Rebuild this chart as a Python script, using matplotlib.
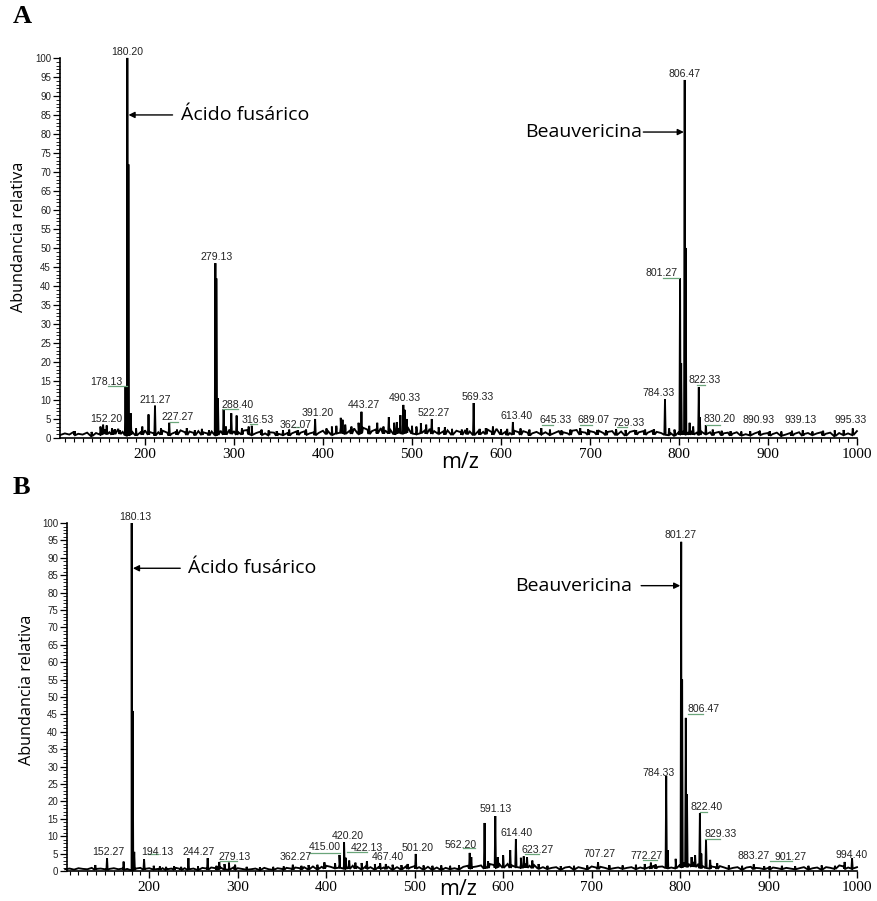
import numpy as np
import matplotlib
matplotlib.use("Agg")
import matplotlib.pyplot as plt
from matplotlib.ticker import MultipleLocator

# ---------------- data ----------------
base_mz = np.arange(105, 1001, 5)

A_base = [0.8,1.2,0.9,1.6,1.1,0.9,1.4,1.0,1.3,1.8,
          2.2,1.5,1.9,2.4,1.6,1.2,1.8,1.3,1.5,2.0,
          1.6,1.2,1.5,1.9,1.4,1.1,1.6,2.0,1.5,1.7,
          1.3,1.8,1.5,1.2,1.7,1.4,1.9,1.6,2.2,1.8,
          1.5,1.9,2.1,1.6,1.3,1.7,1.2,1.5,1.4,1.1,
          1.6,1.3,1.2,1.7,1.4,1.8,1.2,1.5,1.3,1.9,
          2.0,1.6,2.4,2.8,2.2,1.9,2.5,2.1,2.7,2.2,
          1.8,2.3,2.6,2.0,2.4,1.9,2.6,2.2,2.9,2.3,
          2.0,2.5,2.1,2.4,1.8,2.2,1.7,2.0,1.6,1.9,
          1.5,2.1,1.7,1.4,1.9,1.6,2.2,1.5,2.4,1.8,
          1.6,1.3,1.9,1.5,1.8,1.4,1.2,1.6,2.0,1.5,
          1.7,1.3,1.8,1.5,1.2,1.9,2.1,1.6,1.4,1.8,
          1.5,1.9,1.3,1.6,1.8,1.4,1.7,1.2,1.6,1.9,
          1.5,1.8,1.4,1.9,1.6,1.3,1.7,1.4,1.2,1.6,
          1.8,1.5,1.9,1.4,1.7,2.0,1.5,1.3,1.6,1.2,
          1.4,1.1,1.5,1.3,1.0,1.4,1.2,1.6,1.1,1.3,
          1.0,1.4,1.2,0.9,1.3,1.1,1.5,1.0,1.3,1.6,
          1.2,1.5,1.1,1.4,1.0,1.3,1.6,1.2,1.5,1.8]

B_base = [0.5,0.7,0.4,0.8,0.6,0.5,0.9,0.6,0.7,0.5,
          0.6,0.8,0.5,0.7,0.6,0.4,0.7,0.9,0.6,0.8,
          0.9,0.6,0.8,0.5,0.7,0.9,0.6,0.8,0.5,0.7,
          0.6,0.9,0.7,1.0,0.8,1.1,0.9,0.7,1.0,0.8,
          0.6,0.8,0.5,0.7,0.6,0.9,0.5,0.7,0.8,0.6,
          0.9,0.7,1.0,0.8,1.1,0.9,1.3,1.0,1.2,1.5,
          1.2,1.6,1.9,1.4,1.1,1.5,1.2,1.0,1.4,1.1,
          0.9,1.3,1.0,1.2,0.8,1.1,0.9,1.3,1.0,1.4,
          1.1,0.9,1.2,0.8,1.0,0.7,0.9,1.1,0.8,1.0,
          1.2,1.5,1.1,1.3,1.6,1.2,2.0,1.7,2.2,1.8,
          2.0,1.6,2.4,1.9,2.1,1.5,1.7,1.3,1.1,1.2,
          0.9,1.1,0.8,1.0,1.2,0.9,1.1,0.8,1.0,1.3,
          1.0,1.2,0.9,1.1,0.8,1.0,1.3,0.9,1.1,1.2,
          1.0,1.4,1.1,1.6,1.2,1.3,1.7,1.0,1.5,1.8,
          2.4,2.0,2.6,1.8,1.5,1.7,1.3,1.1,1.4,1.0,
          1.2,0.9,1.1,0.8,1.0,1.2,0.9,0.8,1.1,0.9,
          1.0,0.8,1.1,0.9,0.7,1.0,0.8,1.1,0.9,0.8,
          1.0,0.8,1.1,0.9,1.2,1.6,1.3,1.0,1.4,1.1]

A_peak_mz = [121, 140, 150, 153, 157, 163, 166, 172, 178.13, 180.2, 181.4, 184, 190, 197,
             204, 211.27, 218, 227.27, 236, 247, 256, 264, 272, 279.13, 280.2, 282, 288.4,
             291, 297, 303, 309, 316.53, 320, 331, 339, 348, 355, 362.07, 372, 381, 391.2,
             404, 410, 415, 420, 422, 425, 432, 440, 443.27, 452, 461, 468, 474, 480, 483,
             487, 490.33, 492, 494, 500, 505, 510, 516, 522.27, 530, 537, 545, 556, 562,
             569.33, 576, 583, 591, 600, 607, 613.4, 622, 632, 645.33, 655, 668, 678,
             689.07, 698, 708, 718, 729.33, 740, 752, 762, 772, 784.33, 789, 795, 801.27,
             802.5, 806.47, 807.6, 812, 816, 822.33, 823.5, 830.2, 838, 848, 858, 870, 880,
             890.93, 902, 915, 927, 939.13, 950, 962, 975, 985, 995.33]
A_peak_h = [1.8, 1.6, 3.0, 3.5, 3.3, 2.5, 2.3, 2.0, 13.5, 100, 72, 6.5, 2.5, 3.0,
            6.2, 8.5, 2.5, 4.0, 2.2, 2.6, 2.0, 2.4, 2.0, 46, 42, 10.5, 7.6,
            3.0, 6.5, 5.9, 2.5, 3.0, 3.2, 2.2, 2.0, 1.8, 2.0, 2.2, 2.0, 2.2, 5.0,
            2.5, 3.0, 3.2, 5.3, 4.8, 3.5, 3.0, 4.0, 6.9, 3.2, 4.0, 3.0, 5.5, 4.0, 4.2,
            6.0, 8.7, 7.4, 5.0, 3.2, 3.0, 3.9, 3.5, 5.0, 2.8, 2.8, 2.4, 2.2, 2.6,
            9.2, 2.4, 2.6, 3.0, 2.3, 2.4, 4.2, 2.5, 2.2, 2.6, 2.2, 2.0, 2.2,
            2.6, 2.3, 2.1, 2.0, 2.3, 2.1, 2.0, 2.2, 2.3, 10.2, 2.5, 2.2, 42,
            19.7, 94.2, 50, 4.0, 3.0, 13.4, 5.5, 3.4, 2.2, 1.9, 1.8, 1.7, 1.8,
            1.9, 1.8, 1.7, 1.9, 2.0, 1.7, 1.9, 2.0, 2.1, 2.5]

B_peak_mz = [139, 152.27, 171, 180.13, 181.2, 183, 194.13, 205, 212, 219, 228, 236, 244.27,
             255, 266, 276, 279.13, 285, 290, 297, 310, 325, 340, 352, 362.27, 372, 380,
             390, 398, 410, 415, 420.2, 422.13, 426, 433, 440, 446, 455, 461, 467.4, 475,
             485, 492, 501.2, 510, 520, 530, 540, 550, 562.2, 564, 579, 583, 591.13, 594,
             600, 608, 614.4, 620, 623.27, 627, 633, 640, 650, 665, 680, 695, 707.27, 720,
             735, 750, 760, 767, 772.27, 784.33, 786, 795, 801.27, 802.3, 806.47, 807.8,
             813, 817, 822.4, 824, 829.33, 834, 842, 855, 870, 883.27, 895, 901.27, 915,
             930, 945, 960, 975, 986, 994.4]
B_peak_h = [1.7, 3.7, 2.7, 100, 46, 5.5, 3.4, 1.5, 1.3, 1.2, 1.3, 1.2, 3.7,
            1.3, 3.7, 1.5, 2.6, 2.0, 2.4, 1.8, 1.2, 1.1, 1.2, 1.3, 1.8, 1.5, 1.7,
            1.8, 2.5, 2.2, 4.6, 8.3, 3.8, 3.0, 2.4, 2.3, 2.8, 2.0, 2.2, 2.0, 1.8,
            1.7, 2.0, 4.9, 1.6, 1.5, 1.6, 1.5, 1.6, 5.2, 4.0, 13.8, 2.8, 15.8, 4.0,
            4.5, 6.0, 9.2, 3.8, 4.2, 4.0, 3.0, 2.0, 1.5, 1.4, 1.5, 1.6, 2.5, 1.7,
            1.6, 1.8, 2.0, 2.4, 1.9, 27.3, 6.0, 3.5, 94.6, 55, 44, 22,
            4.0, 4.5, 16.6, 5.0, 9.0, 3.2, 2.2, 1.6, 1.5, 1.9, 1.4, 1.4, 1.5,
            1.4, 1.5, 1.6, 1.5, 2.6, 3.6]

# peak annotations (text)
A_labels = ["180.20", "178.13", "152.20", "211.27", "227.27", "279.13", "288.40", "316.53",
            "362.07", "391.20", "443.27", "490.33", "522.27", "569.33", "613.40", "645.33",
            "689.07", "729.33", "784.33", "801.27", "806.47", "822.33", "830.20", "890.93",
            "939.13", "995.33"]
B_labels = ["180.13", "152.27", "194.13", "244.27", "279.13", "362.27", "415.00", "420.20",
            "422.13", "467.40", "501.20", "562.20", "591.13", "614.40", "623.27", "707.27",
            "772.27", "784.33", "801.27", "806.47", "822.40", "829.33", "883.27", "901.27",
            "994.40"]

# ---------------- layout (label placement) ----------------
A_lab_x = [180, 157, 156, 212, 237, 281, 304, 327, 369, 394, 446, 492, 525, 574, 617, 661,
           704, 743, 777, 781, 806, 829, 846, 889, 937, 993]
A_lab_y = [101.6, 14.7, 5.0, 10.0, 5.5, 47.6, 8.7, 4.7, 3.4, 6.6, 8.7, 10.5, 6.6, 10.8, 5.8,
           4.7, 4.7, 3.9, 11.8, 43.4, 95.8, 15.3, 5.0, 4.7, 4.7, 4.7]
B_lab_x = [184, 154, 209, 256, 297, 365, 398, 424, 446, 470, 503, 552, 592, 615, 639, 709,
           762, 776, 801, 827, 830, 846, 883, 925, 994]
B_lab_y = [101.7, 5.5, 5.5, 5.5, 4.0, 4.0, 6.9, 10.1, 6.6, 4.0, 6.6, 7.5, 17.8, 10.9, 6.0,
           4.9, 4.3, 28.2, 96.6, 46.6, 18.4, 10.6, 4.3, 4.0, 4.6]

A_leaders = [(158, 180, 13.7), (228, 237, 4.2), (288, 304, 7.6), (318, 326, 3.7),
             (366, 373, 3.0), (646, 658, 3.4), (689, 702, 3.4), (730, 742, 3.0),
             (782, 800, 42.0), (820, 829, 14.0), (830, 846, 3.3)]
B_leaders = [(199, 210, 4.9), (280, 299, 2.9), (380, 416, 5.1), (424, 446, 5.5),
             (555, 568, 6.5), (625, 640, 4.9), (758, 774, 3.2), (809, 826, 45.0),
             (822, 830, 17.0), (828, 845, 9.2), (902, 927, 2.9)]


def profile(bmz, bh, pmz, ph, w=0.7):
    bmz = np.asarray(bmz, float)
    bh = np.asarray(bh, float)
    xs = list(bmz)
    ys = list(bh)
    for m, h in zip(pmz, ph):
        b = np.interp(m, bmz, bh)
        xs += [m - w, m, m + w]
        ys += [b * 0.5, h, b * 0.5]
    order = np.argsort(xs, kind="stable")
    return np.asarray(xs)[order], np.asarray(ys)[order]


fig = plt.figure(figsize=(8.78, 9.01), dpi=100)
fig.patch.set_facecolor("white")

axA = fig.add_axes([0.0683, 0.5139, 0.9077, 0.4218])
axB = fig.add_axes([0.0763, 0.0333, 0.8998, 0.3862])

label_font = "Liberation Sans"
green = "#6aa57a"


def style(ax, xmin):
    ax.set_xlim(xmin, 1000)
    ax.set_ylim(0, 100)
    for s in ["top", "right"]:
        ax.spines[s].set_visible(False)
    for s in ["left", "bottom"]:
        ax.spines[s].set_linewidth(1.2)
    ax.xaxis.set_major_locator(MultipleLocator(100))
    ax.xaxis.set_minor_locator(MultipleLocator(10))
    ax.yaxis.set_major_locator(MultipleLocator(5))
    ax.yaxis.set_minor_locator(MultipleLocator(1))
    ax.tick_params(axis="x", which="major", length=5, width=1.0, pad=2, labelsize=11)
    ax.tick_params(axis="x", which="minor", length=3, width=0.8)
    ax.tick_params(axis="y", which="major", length=5, width=0.9, pad=1.5, labelsize=7)
    ax.tick_params(axis="y", which="minor", length=3, width=0.6)
    ax.set_xticks(np.arange(200, 1001, 100))
    for t in ax.get_xticklabels():
        t.set_fontfamily("Liberation Serif")
    for t in ax.get_yticklabels():
        t.set_fontfamily(label_font)
        t.set_color("#222222")


def draw(ax, bh, pmz, ph, labels, lx, ly, leaders):
    x, y = profile(base_mz, bh, pmz, ph)
    ax.plot(x, y, color="black", lw=1.35, clip_on=False, solid_joinstyle="miter")
    for t, xx, yy in zip(labels, lx, ly):
        ax.text(xx, yy, t, ha="center", va="center", fontsize=7.6,
                family=label_font, color="#222222")
    for x0, x1, yy in leaders:
        ax.plot([x0, x1], [yy, yy], color=green, lw=0.9)


style(axA, 104.5)
style(axB, 107)
draw(axA, A_base, A_peak_mz, A_peak_h, A_labels, A_lab_x, A_lab_y, A_leaders)
draw(axB, B_base, B_peak_mz, B_peak_h, B_labels, B_lab_x, B_lab_y, B_leaders)

ann_font = "Open Sans"
arrow = dict(arrowstyle="-|>", color="black", lw=1.0, mutation_scale=9, shrinkA=0, shrinkB=0)

# Panel A annotations
axA.annotate("", xy=(181.5, 85), xytext=(231, 85), arrowprops=arrow)
axA.text(241, 85, "Ácido fusárico", ha="left", va="center", fontsize=14, family=ann_font)
axA.annotate("", xy=(805.5, 80.5), xytext=(760, 80.5), arrowprops=arrow)
axA.text(759, 80.5, "Beauvericina", ha="right", va="center", fontsize=14, family=ann_font)

# Panel B annotations
axB.annotate("", xy=(181.5, 87), xytext=(235, 87), arrowprops=arrow)
axB.text(244, 87, "Ácido fusárico", ha="left", va="center", fontsize=14, family=ann_font)
axB.annotate("", xy=(800.2, 82), xytext=(756, 82), arrowprops=arrow)
axB.text(746, 82, "Beauvericina", ha="right", va="center", fontsize=14, family=ann_font)

# figure texts
fig.text(0.025, 0.982, "A", fontsize=19, fontweight="bold", family="Liberation Serif",
         ha="center", va="center")
fig.text(0.024, 0.459, "B", fontsize=19, fontweight="bold", family="Liberation Serif",
         ha="center", va="center")
fig.text(0.0216, 0.737, "Abundancia relativa", rotation=90, fontsize=11.7,
         family=ann_font, ha="center", va="center")
fig.text(0.0307, 0.234, "Abundancia relativa", rotation=90, fontsize=11.7,
         family=ann_font, ha="center", va="center")
fig.text(0.524, 0.487, "m/z", fontsize=15.5, family=ann_font, ha="center", va="center")
fig.text(0.522, 0.0125, "m/z", fontsize=15.5, family=ann_font, ha="center", va="center")

fig.savefig("out.png", dpi=100, facecolor="white")
